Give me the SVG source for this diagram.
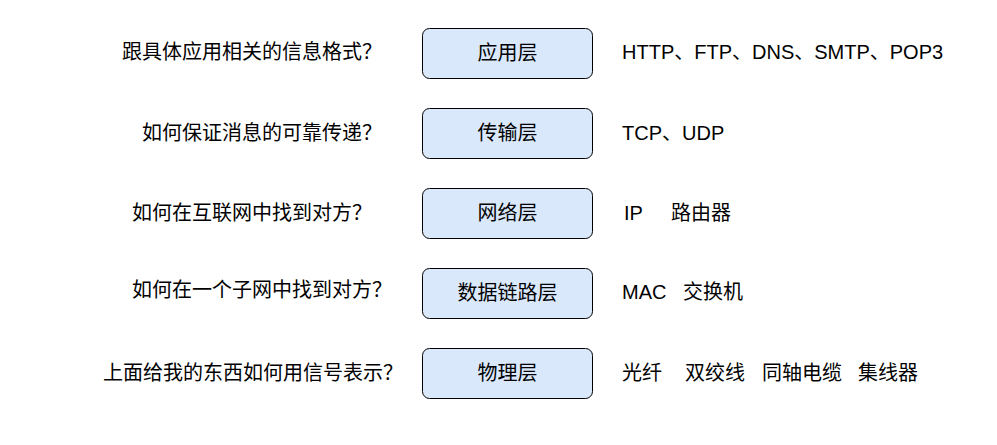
<svg xmlns="http://www.w3.org/2000/svg" width="997" height="445" viewBox="0 0 997 445">
<style>
.box{fill:#dae8fc;stroke:#000;stroke-width:1}
text{font-family:"Liberation Sans","Noto Sans CJK SC",sans-serif;font-size:20px;fill:#000}
.c{text-anchor:middle}
</style>
<rect width="997" height="445" fill="#fff"/>
<g id="connectors"/>
<g id="app">
<rect class="box" x="422.5" y="28.5" width="170" height="50" rx="7"/>
<text class="c" x="507.5" y="60">应用层</text>
</g>
<g id="transport">
<rect class="box" x="422.5" y="108.5" width="170" height="50" rx="7"/>
<text class="c" x="507.5" y="140">传输层</text>
</g>
<g id="network">
<rect class="box" x="422.5" y="188.5" width="170" height="50" rx="7"/>
<text class="c" x="507.5" y="220">网络层</text>
</g>
<g id="datalink">
<rect class="box" x="422.5" y="268.5" width="170" height="50" rx="7"/>
<text class="c" x="507.5" y="300">数据链路层</text>
</g>
<g id="physical">
<rect class="box" x="422.5" y="348.5" width="170" height="50" rx="7"/>
<text class="c" x="507.5" y="380">物理层</text>
</g>
<g id="questions">
<text x="122" y="59">跟具体应用相关的信息格式？</text>
<text x="142" y="140">如何保证消息的可靠传递？</text>
<text x="132" y="220">如何在互联网中找到对方？</text>
<text x="132" y="297">如何在一个子网中找到对方？</text>
<text x="103" y="380">上面给我的东西如何用信号表示？</text>
</g>
<g id="examples">
<text x="622" y="59">HTTP、FTP、DNS、SMTP、POP3</text>
<text x="622" y="140">TCP、UDP</text>
<text y="220"><tspan x="624">IP</tspan><tspan x="671">路由器</tspan></text>
<text y="299"><tspan x="622">MAC</tspan><tspan x="683">交换机</tspan></text>
<text y="380"><tspan x="622">光纤</tspan><tspan x="685">双绞线</tspan><tspan x="762">同轴电缆</tspan><tspan x="858">集线器</tspan></text>
</g>
</svg>
